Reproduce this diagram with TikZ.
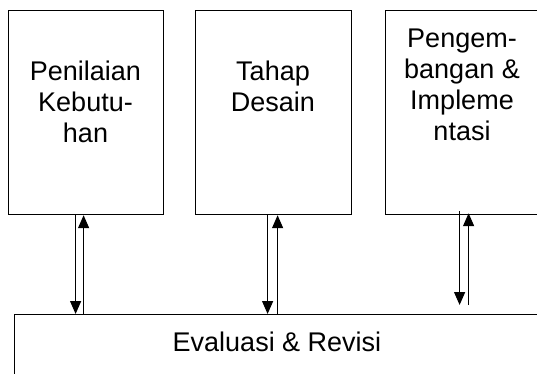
\documentclass[tikz,border=0pt]{standalone}
\usepackage{fontspec}
\setmainfont{Liberation Sans}
\usetikzlibrary{arrows.meta}
\begin{document}
\begin{tikzpicture}[x=1pt,y=1pt,
  box/.style={draw, line width=1.2pt, inner sep=0, anchor=north west},
  lbl/.style={font=\fontsize{27}{31}\selectfont, align=center, inner sep=0, anchor=base},
  arr/.style={line width=1.3pt, -{Triangle[width=11pt,length=13pt]}}]
\clip (0,0) rectangle (537,373);
\node[box, minimum width=155pt, minimum height=204pt] (b1) at (8,363) {};
\node[box, minimum width=156pt, minimum height=204pt] (b2) at (195,363) {};
\node[box, minimum width=155pt, minimum height=204pt] (b3) at (385,363) {};
\node[box, minimum width=527pt, minimum height=80pt] (ev) at (13.5,59) {};
% anchor=base of a multi-line node is the baseline of its last line
\node[lbl] (t1) at (85.5,231) {Penilaian\\Kebutu-\\han};
\node[lbl] (t2) at (273,262) {Tahap\\Desain};
\node[lbl] (t3) at (462,233) {Pengem-\\bangan \&\\Impleme\\ntasi};
\node[lbl] (t4) at (277,22) {Evaluasi \& Revisi};
% pair 1
\coordinate (d1s) at ([xshift=-10.5pt]b1.south);
\coordinate (d1e) at (d1s |- ev.north);
\coordinate (u1e) at ([xshift=-2.5pt]b1.south);
\coordinate (u1s) at (u1e |- ev.north);
\draw[arr] (d1s) -- (d1e);
\draw[arr] (u1s) -- (u1e);
% pair 2
\coordinate (d2s) at ([xshift=-6pt]b2.south);
\coordinate (d2e) at (d2s |- ev.north);
\coordinate (u2e) at ([xshift=4pt]b2.south);
\coordinate (u2s) at (u2e |- ev.north);
\draw[arr] (d2s) -- (d2e);
\draw[arr] (u2s) -- (u2e);
% pair 3
\coordinate (d3s) at ([xshift=-3.5pt,yshift=4pt]b3.south);
\coordinate (d3e) at ([yshift=9pt]d3s |- ev.north);
\coordinate (u3e) at ([xshift=5.5pt,yshift=2pt]b3.south);
\coordinate (u3s) at ([yshift=9pt]u3e |- ev.north);
\draw[arr] (d3s) -- (d3e);
\draw[arr] (u3s) -- (u3e);
\end{tikzpicture}
\end{document}
